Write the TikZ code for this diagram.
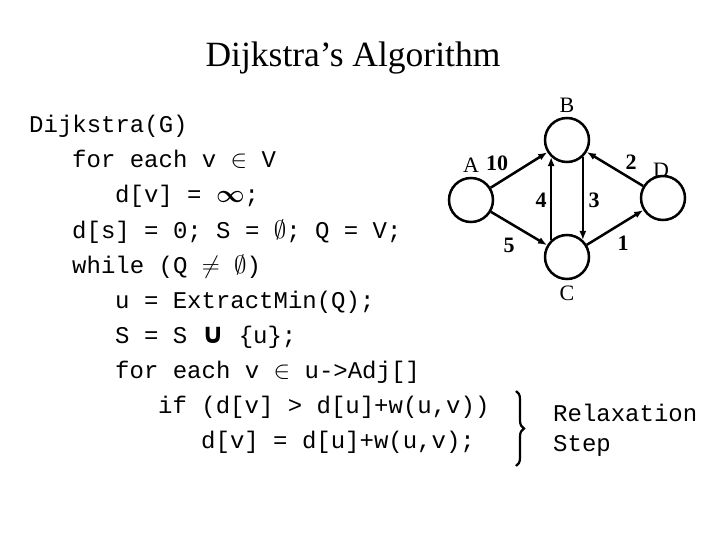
\documentclass[tikz,border=0pt]{standalone}
\usepackage{amsmath}
\usepackage{amssymb}
\usepackage{fontspec}
\setmainfont{Liberation Serif}
\setmonofont{Liberation Mono}
\newfontfamily\symbfont{DejaVu Sans}
\usetikzlibrary{arrows.meta, decorations.pathreplacing}

\tikzset{
    code/.style={anchor=base west, inner sep=0pt, font=\fontsize{24}{24}\selectfont\ttfamily},
    vertex/.style={circle, draw, line width=2.5pt, minimum size=44pt, inner sep=0pt},
    edge/.style={-{Latex[length=9pt, width=7pt]}, line width=2.5pt},
    vname/.style={font=\fontsize{22}{22}\selectfont},
    weight/.style={font=\fontsize{22}{22}\selectfont\bfseries}
}

\begin{document}
\begin{tikzpicture}[x=1pt, y=-1pt]
    \useasboundingbox (0,0) rectangle (720,540);

    % Title
    \node[anchor=base, inner sep=0pt, font=\fontsize{35.5}{36}\selectfont] (title) at (353,67) {Dijkstra's Algorithm};

    % Pseudocode
    \node[code] (l1)  at (29,133)  {Dijkstra(G)};
    \node[code] (l2)  at (72,168)  {for each v \(\in\) V};
    \node[code] (l3)  at (115,203) {d[v] = \(\boldsymbol{\infty}\);};
    \node[code] (l4)  at (72,238)  {d[s] = 0; S = \(\emptyset\); Q = V;};
    \node[code] (l5)  at (72,273)  {while (Q \(\neq\) \(\emptyset\))};
    \node[code] (l6)  at (115,308) {u = ExtractMin(Q);};
    \node[code] (l7)  at (115,343) {S = S {\symbfont\bfseries\fontsize{28}{28}\selectfont ∪} \{u\};};
    \node[code] (l8)  at (115,378) {for each v \(\in\) u->Adj[]};
    \node[code] (l9)  at (158,413) {if (d[v] > d[u]+w(u,v))};
    \node[code] (l10) at (201,448) {d[v] = d[u]+w(u,v);};

    % Relaxation brace
    \coordinate (brtop) at (516,391);
    \coordinate (brbot) at (516,466);
    \draw[line width=2.2pt, decorate, decoration={brace, amplitude=8pt}] (brtop) -- (brbot);
    \node[code] (relax) at (553,421) {Relaxation};
    \node[code] (step)  at (553,451) {Step};

    % Graph
    \node[vertex] (A) at (471,200) {};
    \node[vertex] (B) at (567,140) {};
    \node[vertex] (C) at (567,257) {};
    \node[vertex] (D) at (663,198) {};

    \node[vname] (Alab) at (471,165) {A};
    \node[vname] (Blab) at (567,105) {B};
    \node[vname] (Clab) at (567,293) {C};
    \node[vname] (Dlab) at (661,170) {D};

    \draw[edge] (A) -- (B);
    \draw[edge] (A) -- (C);
    \draw[edge] (C.133) -- (B.227);
    \draw[edge] (B.313) -- (C.47);
    \draw[edge] (D) -- (B);
    \draw[edge] (C) -- (D);

    \node[weight] (wAB) at (497,163) {10};
    \node[weight] (wAC) at (509,245) {5};
    \node[weight] (wCB) at (541,200) {4};
    \node[weight] (wBC) at (594,200) {3};
    \node[weight] (wDB) at (631,162) {2};
    \node[weight] (wCD) at (623,243) {1};
\end{tikzpicture}
\end{document}
